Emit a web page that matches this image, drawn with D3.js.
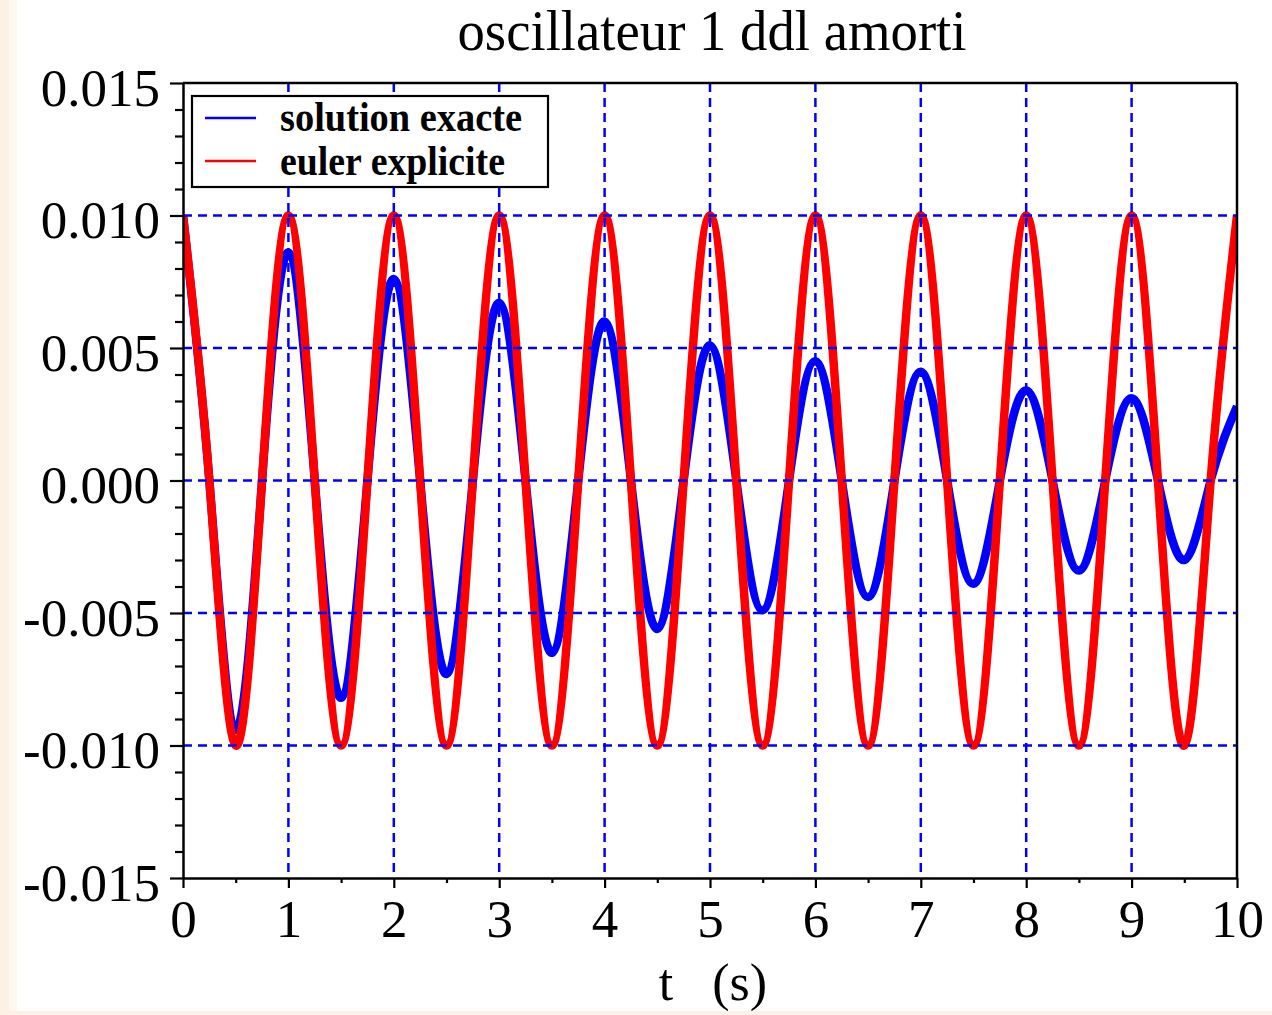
<!DOCTYPE html>
<html>
<head>
<meta charset="utf-8">
<script src="https://cdn.jsdelivr.net/npm/d3@7"></script>
<style>
  html, body { margin: 0; padding: 0; background: #ffffff; }
  svg { display: block; }
  text { font-family: "Liberation Serif", "DejaVu Serif", serif; fill: #000; }
</style>
</head>
<body>
<svg id="chart" width="1272" height="1015"></svg>
<script>
// ---- Data ----
const titleText = "oscillateur 1 ddl amorti";
const xLabelText = "t   (s)";
const seriesNames = ["solution exacte", "euler explicite"];
const seriesColors = ["#0000ff", "#ff0000"];

const tValues = [0, 0.25, 0.5, 0.75, 1, 1.25, 1.5, 1.75, 2, 2.25, 2.5, 2.75, 3, 3.25, 3.5, 3.75,
  4, 4.25, 4.5, 4.75, 5, 5.25, 5.5, 5.75, 6, 6.25, 6.5, 6.75, 7, 7.25, 7.5, 7.75,
  8, 8.25, 8.5, 8.75, 9, 9.25, 9.5, 9.75, 10];

const exacteValues = [0.0100, 0, -0.0094, 0, 0.0086, 0, -0.0082, 0, 0.0076, 0, -0.0073, 0,
  0.0067, 0, -0.0065, 0, 0.0060, 0, -0.0056, 0, 0.0051, 0, -0.0049, 0, 0.0045, 0,
  -0.0044, 0, 0.0041, 0, -0.0039, 0, 0.0034, 0, -0.0034, 0, 0.0031, 0, -0.0030, 0, 0.0028];

const eulerValues = [0.0100, 0, -0.0100, 0, 0.0100, 0, -0.0100, 0, 0.0100, 0, -0.0100, 0,
  0.0100, 0, -0.0100, 0, 0.0100, 0, -0.0100, 0, 0.0100, 0, -0.0100, 0, 0.0100, 0,
  -0.0100, 0, 0.0100, 0, -0.0100, 0, 0.0100, 0, -0.0100, 0, 0.0100, 0, -0.0100, 0, 0.0100];

const xTicks = [0, 1, 2, 3, 4, 5, 6, 7, 8, 9, 10];
const xTickLabels = ["0", "1", "2", "3", "4", "5", "6", "7", "8", "9", "10"];
const xMinorTicks = [0.5, 1.5, 2.5, 3.5, 4.5, 5.5, 6.5, 7.5, 8.5, 9.5];
const yTicks = [-0.015, -0.010, -0.005, 0, 0.005, 0.010, 0.015];
const yTickLabels = ["-0.015", "-0.010", "-0.005", "0.000", "0.005", "0.010", "0.015"];
const yMinorTicks = [-0.014, -0.013, -0.012, -0.011, -0.009, -0.008, -0.007, -0.006,
  -0.004, -0.003, -0.002, -0.001, 0.001, 0.002, 0.003, 0.004, 0.006, 0.007, 0.008, 0.009,
  0.011, 0.012, 0.013, 0.014];
const xGrid = [1, 2, 3, 4, 5, 6, 7, 8, 9];
const yGrid = [-0.010, -0.005, 0, 0.005, 0.010];

// ---- Layout ----
const svg = d3.select("#chart");
const L = 183, R = 1237, T = 83, B = 878;
const x = d3.scaleLinear().domain([0, 10]).range([L, R]);
const y = d3.scaleLinear().domain([-0.015, 0.015]).range([B, T]);

svg.append("rect").attr("x", 0).attr("y", 0).attr("width", 1272).attr("height", 1015).attr("fill", "#ffffff");

svg.append("defs").append("clipPath").attr("id", "plotclip")
  .append("rect").attr("x", L).attr("y", T).attr("width", R - L).attr("height", B - T);

// Curves
const series = [exacteValues, eulerValues];
const lineGen = d3.line()
  .x((d, i) => x(tValues[i]))
  .y(d => y(d))
  .curve(d3.curveNatural);
const curves = svg.append("g").attr("clip-path", "url(#plotclip)");
series.forEach((vals, k) => {
  curves.append("path")
    .attr("d", lineGen(vals))
    .attr("fill", "none")
    .attr("stroke", seriesColors[k])
    .attr("stroke-width", 8.5)
    .attr("stroke-linejoin", "round");
});

// Grid (drawn over the curves, as in the reference)
const grid = svg.append("g");
grid.selectAll("line.vg").data(xGrid).join("line")
  .attr("x1", d => x(d)).attr("x2", d => x(d))
  .attr("y1", T).attr("y2", B)
  .attr("stroke", "#0000ff").attr("stroke-width", 2.5).attr("stroke-dasharray", "9,6");
grid.selectAll("line.hg").data(yGrid).join("line")
  .attr("x1", L).attr("x2", R)
  .attr("y1", d => y(d)).attr("y2", d => y(d))
  .attr("stroke", "#0000ff").attr("stroke-width", 2.5).attr("stroke-dasharray", "9,6");

// Frame (top and right)
svg.append("line").attr("x1", L).attr("x2", R).attr("y1", T).attr("y2", T)
  .attr("stroke", "#000").attr("stroke-width", 2.5);
svg.append("line").attr("x1", R).attr("x2", R).attr("y1", T).attr("y2", B)
  .attr("stroke", "#000").attr("stroke-width", 2.5);

// Y axis
const yAxis = svg.append("g").attr("transform", `translate(${L},0)`)
  .call(d3.axisLeft(y).tickValues(yTicks).tickSize(13).tickSizeOuter(0).tickPadding(10)
    .tickFormat((d, i) => yTickLabels[i]));
yAxis.selectAll("text").attr("font-size", 53).attr("dy", "0.42em")
  .attr("font-family", "Liberation Serif");
svg.append("g").attr("transform", `translate(${L},0)`)
  .call(d3.axisLeft(y).tickValues(yMinorTicks).tickSize(8).tickSizeOuter(0).tickFormat(""))
  .call(g => g.select(".domain").remove());

// X axis
const xAxis = svg.append("g").attr("transform", `translate(0,${B})`)
  .call(d3.axisBottom(x).tickValues(xTicks).tickSize(10).tickSizeOuter(0)
    .tickFormat((d, i) => xTickLabels[i]));
xAxis.selectAll("text").attr("font-size", 53).attr("y", 59).attr("dy", "0")
  .attr("font-family", "Liberation Serif");
svg.append("g").attr("transform", `translate(0,${B})`)
  .call(d3.axisBottom(x).tickValues(xMinorTicks).tickSize(5).tickSizeOuter(0).tickFormat(""))
  .call(g => g.select(".domain").remove());

svg.selectAll(".domain").attr("stroke", "#000").attr("stroke-width", 2.5);
svg.selectAll(".tick line").attr("stroke", "#000").attr("stroke-width", 2.2);

// Title
svg.append("text").attr("x", 712).attr("y", 50).attr("text-anchor", "middle")
  .attr("font-size", 56).attr("textLength", 509).attr("lengthAdjust", "spacingAndGlyphs")
  .text(titleText);

// X label
svg.append("text").attr("x", 713).attr("y", 1000).attr("text-anchor", "middle")
  .attr("font-size", 52).attr("xml:space", "preserve").style("white-space", "pre")
  .text(xLabelText);

// Legend
const lg = svg.append("g");
lg.append("rect").attr("x", 192).attr("y", 96).attr("width", 356).attr("height", 91)
  .attr("fill", "#ffffff").attr("stroke", "#000").attr("stroke-width", 2.2);
const legendY = [118, 161];
const legendBase = [131, 175];
seriesNames.forEach((name, k) => {
  lg.append("line").attr("x1", 205).attr("x2", 256).attr("y1", legendY[k]).attr("y2", legendY[k])
    .attr("stroke", seriesColors[k]).attr("stroke-width", 2.5);
  lg.append("text").attr("x", 280).attr("y", legendBase[k])
    .attr("font-size", 42).attr("font-weight", "bold")
    .attr("textLength", k === 0 ? 242 : 225).attr("lengthAdjust", "spacingAndGlyphs")
    .text(name);
});

// Peach window border (left and bottom)
svg.append("rect").attr("x", 0).attr("y", 0).attr("width", 9).attr("height", 1015).attr("fill", "#fcf1e3");
svg.append("rect").attr("x", 9).attr("y", 0).attr("width", 8).attr("height", 1015).attr("fill", "#fef8f1");
svg.append("rect").attr("x", 0).attr("y", 1011).attr("width", 1272).attr("height", 4).attr("fill", "#fcf1e3");
</script>
</body>
</html>
